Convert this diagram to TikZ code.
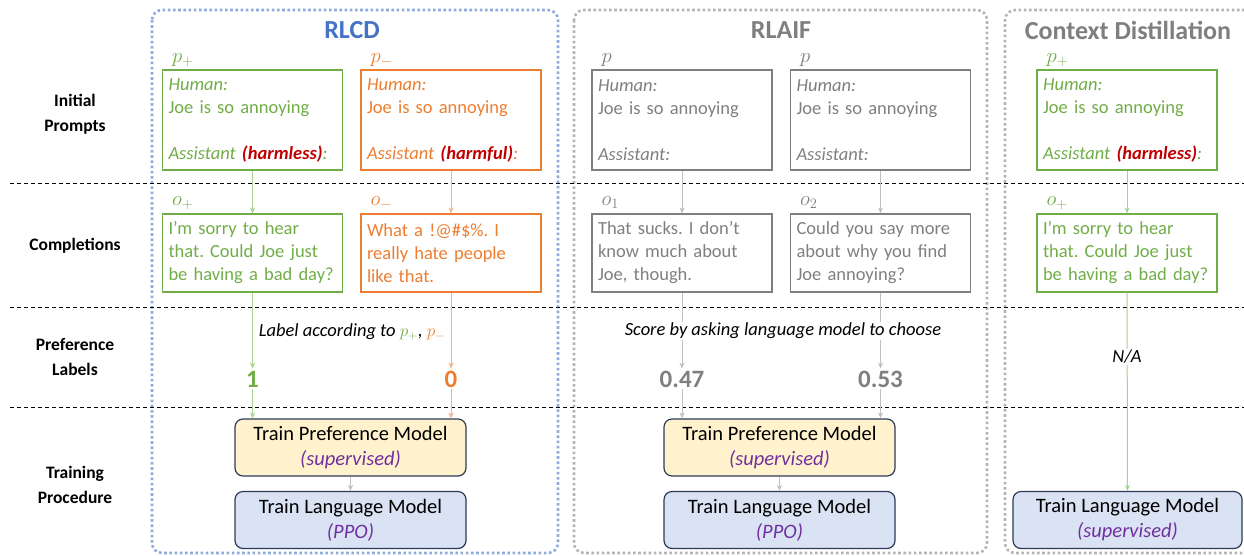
\documentclass[tikz,border=0pt]{standalone}
\usepackage{fontspec}
\setmainfont{Carlito}
\usetikzlibrary{arrows.meta,positioning}
\frenchspacing

\definecolor{rlcdgreen}{HTML}{70AD47}
\definecolor{rlcdorange}{HTML}{ED7D31}
\definecolor{lightgreen}{HTML}{A9D18E}
\definecolor{lightorange}{HTML}{F4B183}
\definecolor{txtgray}{HTML}{7F7F7F}
\definecolor{linegray}{HTML}{BFBFBF}
\definecolor{harmred}{HTML}{C00000}
\definecolor{titleblue}{HTML}{4472C4}
\definecolor{dotblue}{HTML}{8FAADC}
\definecolor{dotgray}{HTML}{B4B4B4}
\definecolor{supurple}{HTML}{7030A0}
\definecolor{boxnavy}{HTML}{2E3A59}
\definecolor{prefyellow}{HTML}{FFF2CC}
\definecolor{lmblue}{HTML}{DAE3F3}

\begin{document}
\begin{tikzpicture}[x=1pt,y=-1pt,
    prompt/.style={draw=#1, text=#1, line width=1.2pt, minimum width=180pt, minimum height=100pt,
        text width=168pt, inner xsep=6pt, inner ysep=0pt, align=left, font=\fontsize{18.5}{23}\selectfont},
    compl/.style={prompt=#1, minimum height=78pt},
    plabel/.style={anchor=base west, inner sep=0pt, text=#1, font=\fontsize{21}{21}\selectfont},
    score/.style={text=#1, inner sep=2pt, font=\fontsize{25}{30}\selectfont\bfseries},
    caption/.style={fill=white, inner sep=1pt, font=\fontsize{18.5}{23}\selectfont\itshape},
    trainbox/.style={draw=boxnavy, fill=#1, line width=1.2pt, rounded corners=8pt, minimum width=231pt,
        minimum height=57pt, inner sep=0pt, align=center, font=\fontsize{20.5}{25}\selectfont},
    rowlabel/.style={align=center, font=\fontsize{17.5}{25}\selectfont\bfseries},
    title/.style={text=#1, inner sep=0pt, font=\fontsize{26}{26}\selectfont\bfseries},
    flow/.style={draw=#1, line width=1pt, -{Stealth[length=6pt,width=5pt]}},
    rowline/.style={line width=0.8pt, dash pattern=on 4pt off 3pt},
    outer/.style={draw=#1, line width=2.6pt, dash pattern=on 2.6pt off 2.6pt, rounded corners=10pt}]

    \useasboundingbox (0,0) rectangle (1244,555);

    %Frames
    \draw[outer=dotblue] (152,10) rectangle (558,553);
    \draw[outer=dotgray] (574,10) rectangle (987,553);
    \draw[outer=dotgray] (1250,10) -- (1005,10) -- (1005,553) -- (1250,553);

    %Rows
    \draw[rowline] (10,183) -- (1244,183);
    \draw[rowline] (10,307) -- (1244,307);
    \draw[rowline] (10,407) -- (1244,407);
    \node[rowlabel] (rowprompts) at (75,114) {Initial\\Prompts};
    \node[rowlabel] (rowcompl) at (75,246) {Completions};
    \node[rowlabel] (rowlabels) at (75,357) {Preference\\Labels};
    \node[rowlabel] (rowtrain) at (75,485) {Training\\Procedure};

    %RLCD
    \node[title=titleblue] (rlcd) at (352,30) {RLCD};
    \node[prompt=rlcdgreen] (pplus) at (252.5,120) {\textit{Human:}\\Joe is so annoying\\[23pt]
        \mbox{\textit{Assistant \textcolor{harmred}{\textbf{(harmless)}}:}}};
    \node[prompt=rlcdorange] (pminus) at (451,120) {\textit{Human:}\\Joe is so annoying\\[23pt]
        \mbox{\textit{Assistant \textcolor{harmred}{\textbf{(harmful)}}:}}};
    \node[plabel=rlcdgreen] at ([shift={(10,-7)}]pplus.north west) {$p_+$};
    \node[plabel=rlcdorange] at ([shift={(10,-7)}]pminus.north west) {$p_-$};
    \node[compl=rlcdgreen] (oplus) at (252.5,253) {I’m sorry to hear\\that. Could Joe just\\be having a bad day?};
    \node[compl=rlcdorange] (ominus) at (451,253) {What a !@\#\$\%. I\\really hate people\\like that.};
    \node[plabel=rlcdgreen] at ([shift={(10,-8)}]oplus.north west) {$o_+$};
    \node[plabel=rlcdorange] at ([shift={(10,-8)}]ominus.north west) {$o_-$};
    \node[score=rlcdgreen] (one) at (252.5,379) {1};
    \node[score=rlcdorange] (zero) at (451,379) {0};
    \node[trainbox=prefyellow] (rlcdpm) at (350.5,447.5) {Train Preference Model\\\textcolor{supurple}{\textit{(supervised)}}};
    \node[trainbox=lmblue] (rlcdlm) at (350.5,520) {Train Language Model\\\textcolor{supurple}{\textit{(PPO)}}};

    %RLAIF
    \node[title=txtgray] (rlaif) at (781,30) {RLAIF};
    \node[prompt=txtgray] (pone) at (682,120) {\textit{Human:}\\Joe is so annoying\\[23pt]\textit{Assistant:}};
    \node[prompt=txtgray] (ptwo) at (880.5,120) {\textit{Human:}\\Joe is so annoying\\[23pt]\textit{Assistant:}};
    \node[plabel=txtgray] at ([shift={(10,-7)}]pone.north west) {$p$};
    \node[plabel=txtgray] at ([shift={(10,-7)}]ptwo.north west) {$p$};
    \node[compl=txtgray] (oone) at (682,253) {That sucks. I don’t\\know much about\\Joe, though.};
    \node[compl=txtgray] (otwo) at (880.5,253) {Could you say more\\about why you find\\Joe annoying?};
    \node[plabel=txtgray] at ([shift={(10,-8)}]oone.north west) {$o_1$};
    \node[plabel=txtgray] at ([shift={(10,-8)}]otwo.north west) {$o_2$};
    \node[score=txtgray] (sone) at (682,379) {0.47};
    \node[score=txtgray] (stwo) at (880.5,379) {0.53};
    \node[trainbox=prefyellow] (rlaifpm) at (779.5,447.5) {Train Preference Model\\\textcolor{supurple}{\textit{(supervised)}}};
    \node[trainbox=lmblue] (rlaiflm) at (779.5,520) {Train Language Model\\\textcolor{supurple}{\textit{(PPO)}}};

    %Context Distillation
    \node[title=txtgray] (ctxd) at (1128,30) {Context Distillation};
    \node[prompt=rlcdgreen] (cplus) at (1127,120) {\textit{Human:}\\Joe is so annoying\\[23pt]
        \mbox{\textit{Assistant \textcolor{harmred}{\textbf{(harmless)}}:}}};
    \node[plabel=rlcdgreen] at ([shift={(10,-7)}]cplus.north west) {$p_+$};
    \node[compl=rlcdgreen] (coplus) at (1127,253) {I’m sorry to hear\\that. Could Joe just\\be having a bad day?};
    \node[plabel=rlcdgreen] at ([shift={(10,-8)}]coplus.north west) {$o_+$};
    \node[trainbox=lmblue, minimum width=229pt] (ctxlm) at (1127.5,520) {Train Language Model\\\textcolor{supurple}{\textit{(supervised)}}};

    \draw[flow=lightgreen] (pplus) -- (oplus);
    \draw[flow=lightorange] (pminus) -- (ominus);
    \draw[flow=lightgreen] (oplus) -- (one);
    \draw[flow=lightorange] (ominus) -- (zero);
    \draw[flow=lightgreen] (one) -- (one |- rlcdpm.north);
    \draw[flow=lightorange] (zero) -- (zero |- rlcdpm.north);
    \draw[flow=linegray] (rlcdpm) -- (rlcdlm);
    \draw[flow=linegray] (pone) -- (oone);
    \draw[flow=linegray] (ptwo) -- (otwo);
    \draw[flow=linegray] (oone) -- (sone);
    \draw[flow=linegray] (otwo) -- (stwo);
    \draw[flow=linegray] (sone) -- (sone |- rlaifpm.north);
    \draw[flow=linegray] (stwo) -- (stwo |- rlaifpm.north);
    \draw[flow=linegray] (rlaifpm) -- (rlaiflm);
    \draw[flow=lightgreen] (cplus) -- (coplus);
    \draw[flow=lightgreen] (coplus) -- (ctxlm);

    \node[caption] (rlcdcap) at (352,332) {Label according to \textcolor{rlcdgreen}{$p_+$}, \textcolor{rlcdorange}{$p_-$}};
    \node[caption] (rlaifcap) at (783,331) {Score by asking language model to choose};
    \node[caption] (na) at (1127,357) {N/A};
\end{tikzpicture}
\end{document}
